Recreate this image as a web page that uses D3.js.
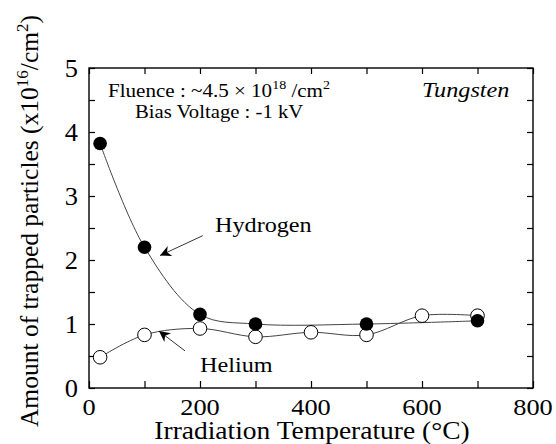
<!DOCTYPE html>
<html>
<head>
<meta charset="utf-8">
<script src="https://cdn.jsdelivr.net/npm/d3@7"></script>
<style>
  body { margin: 0; background: #fff; }
</style>
</head>
<body>
<svg id="chart" width="556" height="444"></svg>
<script>
// data
var hydrogenTemp = [20, 100, 200, 300, 500, 700];
var hydrogenAmount = [3.82, 2.2, 1.15, 1.0, 1.0, 1.05];
var heliumTemp = [20, 100, 200, 300, 400, 500, 600, 700];
var heliumAmount = [0.48, 0.83, 0.93, 0.8, 0.87, 0.83, 1.13, 1.13];
var xTicks = [0, 200, 400, 600, 800];
var yTicks = [0, 1, 2, 3, 4, 5];

var FONT = "'Liberation Serif'";

var svg = d3.select("#chart"),
    margin = {top: 68, right: 23, bottom: 56, left: 89},
    width = +svg.attr("width") - margin.left - margin.right,
    height = +svg.attr("height") - margin.top - margin.bottom;

var x = d3.scaleLinear().domain([0, 800]).range([0, width]);
var y = d3.scaleLinear().domain([0, 5]).range([height, 0]);

var g = svg.append("g")
    .attr("transform", "translate(" + margin.left + "," + margin.top + ")");

// text in the figure is a little wider than Times, so stretch it sideways
function txt(parent, px, py, sx, size) {
    return parent.append("text")
        .attr("transform", "translate(" + px + "," + py + ") scale(" + sx + ",1)")
        .attr("font-size", size)
        .attr("fill", "#000")
        .style("font-family", FONT);
}

// frame
g.append("rect")
    .attr("width", width).attr("height", height)
    .attr("fill", "none").attr("stroke", "#000").attr("stroke-width", 1.4);

// inward ticks on all four sides
var minorX = d3.range(0, 801, 100), minorY = d3.range(0, 5.01, 0.5);
function noDomain(a) { a.select(".domain").remove(); a.selectAll("line").attr("stroke-width", 1.2); }
g.append("g").attr("transform", "translate(0," + height + ")")
    .call(d3.axisBottom(x).tickValues(minorX).tickSize(-7).tickFormat(""))
    .call(noDomain);
g.append("g")
    .call(d3.axisTop(x).tickValues(minorX).tickSize(-6).tickFormat(""))
    .call(noDomain);
g.append("g")
    .call(d3.axisLeft(y).tickValues(minorY).tickSize(-6).tickFormat(""))
    .call(noDomain);
g.append("g").attr("transform", "translate(" + width + ",0)")
    .call(d3.axisRight(y).tickValues(minorY).tickSize(-6).tickFormat(""))
    .call(noDomain);

// tick labels
xTicks.forEach(function (d) {
    txt(g, x(d), height + 27, 1.1, 24).attr("text-anchor", "middle").text(d);
});
yTicks.forEach(function (d) {
    txt(g, -11, y(d), 1.08, 24.5).attr("dy", "0.35em").attr("text-anchor", "end").text(d);
});

// axis titles
txt(svg, 312, 439, 1.1, 25)
    .attr("text-anchor", "middle")
    .text("Irradiation Temperature (\u00B0C)");
var yl = svg.append("text")
    .attr("transform", "translate(38,221) rotate(-90)")
    .attr("text-anchor", "middle")
    .attr("font-size", 25.5)
    .style("font-family", FONT);
yl.append("tspan").text("Amount of trapped particles (x10");
yl.append("tspan").attr("dy", -10).attr("font-size", 17).text("16");
yl.append("tspan").attr("dy", 10).text("/cm");
yl.append("tspan").attr("dy", -10).attr("font-size", 17).text("2");
yl.append("tspan").attr("dy", 10).text(")");

// curves
var line = d3.line()
    .x(function (d) { return x(d[0]); })
    .y(function (d) { return y(d[1]); })
    .curve(d3.curveCatmullRom.alpha(0.5));
var hData = d3.zip(hydrogenTemp, hydrogenAmount);
var heData = d3.zip(heliumTemp, heliumAmount);

g.append("path").datum(hData).attr("d", line)
    .attr("fill", "none").attr("stroke", "#444").attr("stroke-width", 1);
g.append("path").datum(heData).attr("d", line)
    .attr("fill", "none").attr("stroke", "#444").attr("stroke-width", 1);

g.selectAll(".he").data(heData).enter().append("circle")
    .attr("class", "he")
    .attr("cx", function (d) { return x(d[0]); })
    .attr("cy", function (d) { return y(d[1]); })
    .attr("r", 6.8)
    .attr("fill", "#fff").attr("stroke", "#000").attr("stroke-width", 1);
g.selectAll(".h").data(hData).enter().append("circle")
    .attr("class", "h")
    .attr("cx", function (d) { return x(d[0]); })
    .attr("cy", function (d) { return y(d[1]); })
    .attr("r", 6.8)
    .attr("fill", "#000");

// arrows and labels
svg.append("defs").append("marker")
    .attr("id", "head").attr("viewBox", "0 0 10 10")
    .attr("refX", 10).attr("refY", 5)
    .attr("markerWidth", 17).attr("markerHeight", 11)
    .attr("markerUnits", "userSpaceOnUse")
    .attr("orient", "auto")
    .append("path").attr("d", "M0,0 L10,5 L0,10 L3,5 Z").attr("fill", "#000");

var arrows = [
    {from: [205, 2.38], to: [128, 2.07]},
    {from: [173, 0.58], to: [126, 0.89]}
];
g.selectAll(".arrow").data(arrows).enter().append("line")
    .attr("x1", function (d) { return x(d.from[0]); })
    .attr("y1", function (d) { return y(d.from[1]); })
    .attr("x2", function (d) { return x(d.to[0]); })
    .attr("y2", function (d) { return y(d.to[1]); })
    .attr("stroke", "#000").attr("stroke-width", 0.8)
    .attr("marker-end", "url(#head)");

txt(g, x(227), y(2.43), 1.1, 22).text("Hydrogen");
txt(g, x(200), y(0.25), 1.1, 22).text("Helium");

// notes inside the frame
var f = txt(svg, 108, 96.5, 1.08, 19.5);
f.append("tspan").text("Fluence : ~4.5 \u00D7 10");
f.append("tspan").attr("dy", -8).attr("font-size", 13).text("18");
f.append("tspan").attr("dy", 8).text(" /cm");
f.append("tspan").attr("dy", -8).attr("font-size", 13).text("2");
txt(svg, 135, 117.5, 1.09, 19).text("Bias Voltage : -1 kV");
txt(svg, 422, 97, 1.1, 22).attr("font-style", "italic").text("Tungsten");
</script>
</body>
</html>
